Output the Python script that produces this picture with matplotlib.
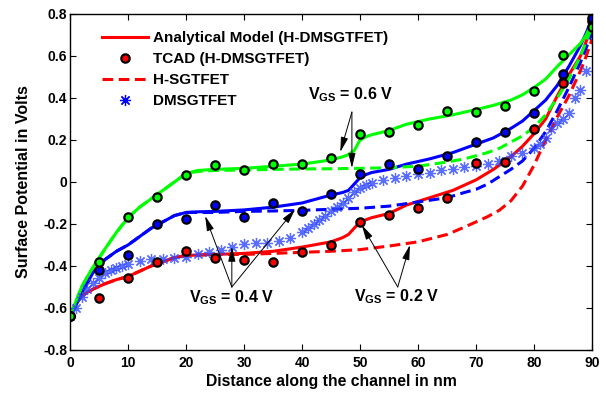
import numpy as np
import matplotlib
matplotlib.use("Agg")
import matplotlib.pyplot as plt

# ---- data ----
x_tcad = [0, 5, 10, 15, 20, 25, 30, 35, 40, 45, 50, 55, 60, 65, 70, 75, 80, 85, 90]
tcad_06 = [-0.64, -0.38, -0.165, -0.07, 0.033, 0.08, 0.057, 0.084, 0.084, 0.113,
           0.23, 0.24, 0.27, 0.34, 0.335, 0.36, 0.433, 0.605, 0.74]
tcad_04 = [-0.64, -0.42, -0.35, -0.2, -0.176, -0.11, -0.165, -0.1, -0.138, -0.055,
           0.038, 0.086, 0.062, 0.124, 0.19, 0.24, 0.33, 0.515, 0.78]
tcad_02 = [-0.64, -0.554, -0.455, -0.38, -0.33, -0.36, -0.37, -0.38, -0.335, -0.30,
           -0.19, -0.155, -0.125, -0.075, 0.089, 0.097, 0.25, 0.47, 0.765]

x_model = [0, 1, 2, 3, 4, 6, 8, 10, 12, 14, 16, 18, 20, 22, 25, 30, 35, 40, 45, 47, 48,
           49, 50, 51, 52, 55, 58, 62, 66, 70, 73, 76, 78, 80, 82, 84, 86, 88, 89, 90]
model_06 = [-0.64, -0.57, -0.5, -0.45, -0.405, -0.32, -0.24, -0.17, -0.12, -0.08, -0.04,
            0.0, 0.04, 0.055, 0.06, 0.065, 0.075, 0.085, 0.105, 0.12, 0.13,
            0.15, 0.2, 0.215, 0.225, 0.245, 0.275, 0.3, 0.32, 0.345, 0.365, 0.39,
            0.415, 0.45, 0.49, 0.55, 0.605, 0.66, 0.7, 0.76]
model_04 = [-0.64, -0.59, -0.53, -0.48, -0.43, -0.37, -0.33, -0.3, -0.26, -0.22, -0.19,
            -0.16, -0.145, -0.142, -0.14, -0.133, -0.12, -0.1, -0.062, -0.05, -0.04,
            -0.01, 0.02, 0.035, 0.045, 0.06, 0.085, 0.11, 0.14, 0.18, 0.21, 0.255,
            0.29, 0.34, 0.39, 0.46, 0.55, 0.65, 0.71, 0.78]
model_02 = [-0.64, -0.58, -0.545, -0.525, -0.51, -0.485, -0.465, -0.45, -0.425, -0.4, -0.38,
            -0.36, -0.35, -0.348, -0.345, -0.34, -0.33, -0.31, -0.285, -0.265, -0.25,
            -0.22, -0.19, -0.18, -0.17, -0.15, -0.11, -0.075, -0.04, 0.01, 0.06, 0.12,
            0.17, 0.23, 0.3, 0.41, 0.51, 0.6, 0.67, 0.74]

x_sg = [0, 1, 2, 3, 4, 6, 8, 10, 12, 14, 16, 18, 20, 22, 25, 30, 35, 40, 45, 50, 55, 60,
        65, 68, 70, 72, 74, 76, 78, 80, 82, 84, 86, 88, 89, 90]
sg_06 = [-0.64, -0.57, -0.5, -0.45, -0.405, -0.32, -0.24, -0.17, -0.12, -0.08, -0.04,
         0.0, 0.04, 0.05, 0.055, 0.057, 0.06, 0.062, 0.063, 0.065, 0.068, 0.075,
         0.095, 0.11, 0.125, 0.14, 0.16, 0.19, 0.22, 0.26, 0.32, 0.4, 0.49, 0.6, 0.67, 0.74]
sg_04 = [-0.64, -0.59, -0.53, -0.48, -0.43, -0.37, -0.33, -0.3, -0.26, -0.22, -0.19,
         -0.16, -0.145, -0.145, -0.145, -0.14, -0.138, -0.135, -0.13, -0.125, -0.115, -0.095,
         -0.075, -0.05, -0.035, -0.01, 0.025, 0.06, 0.1, 0.16, 0.24, 0.34, 0.45, 0.57, 0.64, 0.71]
sg_02 = [-0.64, -0.58, -0.545, -0.525, -0.51, -0.485, -0.465, -0.45, -0.425, -0.4, -0.38,
         -0.36, -0.35, -0.348, -0.345, -0.345, -0.34, -0.335, -0.33, -0.322, -0.305, -0.285,
         -0.25, -0.215, -0.19, -0.165, -0.135, -0.09, -0.02, 0.08, 0.2, 0.31, 0.41, 0.53, 0.6, 0.68]

x_dm = [0, 1, 2, 3, 4, 5, 6, 7, 8, 9, 10, 12, 14, 16, 18, 20, 22, 24, 26, 28, 30, 32,
        34, 36, 38, 40, 41, 42, 43, 44, 45, 46, 47, 48, 49, 50, 51, 52, 54, 56, 58, 60,
        62, 64, 66, 68, 70, 72, 74, 76, 78, 80, 81, 82, 83, 84, 85, 86, 87, 88, 89]
dm_04 = [-0.64, -0.6, -0.55, -0.51, -0.48, -0.455, -0.435, -0.42, -0.41, -0.4, -0.39,
         -0.375, -0.368, -0.365, -0.36, -0.355, -0.345, -0.335, -0.325, -0.31, -0.295,
         -0.29, -0.29, -0.28, -0.265, -0.24, -0.22, -0.2, -0.18, -0.16, -0.14, -0.12,
         -0.1, -0.075, -0.05, -0.03, -0.015, -0.005, 0.01, 0.02, 0.03, 0.04,
         0.045, 0.055, 0.06, 0.07, 0.075, 0.085, 0.1, 0.125, 0.14, 0.16, 0.18, 0.21,
         0.25, 0.28, 0.3, 0.33, 0.4, 0.44, 0.53]


def main():
    plt.rcParams["font.family"] = "Liberation Sans"
    plt.rcParams["font.weight"] = "bold"
    plt.rcParams["mathtext.fontset"] = "custom"
    plt.rcParams["mathtext.rm"] = "Liberation Sans:bold"
    plt.rcParams["mathtext.bf"] = "Liberation Sans:bold"
    plt.rcParams["mathtext.it"] = "Liberation Sans:bold"

    fig = plt.figure(figsize=(6.06, 3.94), dpi=100)
    ax = fig.add_axes([0.1155, 0.1117, 0.8615, 0.8528])

    lw = 2.2
    dash = (0, (3.5, 1.8))
    green = "#00ff00"
    star = (8, 2, 0)
    for ys, c in [(model_02, "r"), (model_04, "b"), (model_06, green)]:
        ax.plot(x_model, ys, "-", color=c, lw=lw)
    for ys, c in [(sg_02, "r"), (sg_04, "b"), (sg_06, green)]:
        ax.plot(x_sg, ys, linestyle=dash, color=c, lw=lw)
    ax.plot(x_dm, dm_04, marker=star, ls="none", color="#3048ff", ms=8, mew=0.9, alpha=0.8)
    for ys, c in [(tcad_02, "r"), (tcad_04, "b"), (tcad_06, green)]:
        ax.plot(x_tcad, ys, "o", mfc=c, mec="k", ms=6, mew=1.6, ls="none")

    # legend with proxy handles
    h1, = ax.plot([], [], "-", color="r", lw=lw)
    h2, = ax.plot([], [], "o", mfc="r", mec="k", ms=6, mew=1.6, ls="none")
    h3, = ax.plot([], [], linestyle=dash, color="r", lw=lw)
    h4, = ax.plot([], [], marker=star, ls="none", color="b", ms=8, mew=0.9)
    ax.legend([h1, h2, h3, h4],
              ["Analytical Model (H-DMSGTFET)", "TCAD (H-DMSGTFET)", "H-SGTFET", "DMSGTFET"],
              loc="upper left", bbox_to_anchor=(0.05, 0.967), frameon=False,
              fontsize=11, handlelength=3.0, labelspacing=0.46, handletextpad=0.3,
              borderaxespad=0)

    arr = dict(arrowstyle="-|>,head_length=0.9,head_width=0.22", color="k", lw=0.7,
               shrinkA=0, shrinkB=0)
    for tail, heads in [((48.6, 0.333), [(46.6, 0.143), (48.6, 0.067)]),
                        ((27.9, -0.5), [(23.3, -0.162), (27.9, -0.308), (38.8, -0.13)]),
                        ((56.5, -0.5), [(50.3, -0.205), (58.6, -0.3)])]:
        for hd in heads:
            ax.annotate("", xy=hd, xytext=tail, arrowprops=arr)
    ax.text(48.4, 0.414, r"V$_{\mathrm{GS}}$ = 0.6 V", fontsize=11.5, ha="center", va="center")
    ax.text(27.8, -0.552, r"V$_{\mathrm{GS}}$ = 0.4 V", fontsize=11.5, ha="center", va="center")
    ax.text(56.2, -0.548, r"V$_{\mathrm{GS}}$ = 0.2 V", fontsize=11.5, ha="center", va="center")

    ax.set_xlim(0, 90)
    ax.set_ylim(-0.8, 0.8)
    ax.set_xticks(np.arange(0, 91, 10))
    ax.set_yticks(np.arange(-0.8, 0.81, 0.2))
    ax.set_yticklabels(["-0.8", "-0.6", "-0.4", "-0.2", "0", "0.2", "0.4", "0.6", "0.8"])
    ax.tick_params(direction="in", top=True, right=True, length=4, labelsize=10)
    ax.tick_params(axis="x", pad=4)
    ax.tick_params(axis="y", pad=2)
    for s in ax.spines.values():
        s.set_linewidth(1.0)
    ax.set_xlabel("Distance along the channel in nm", fontsize=11.3, fontweight="bold", labelpad=3)
    ax.set_ylabel("Surface Potential in Volts", fontsize=11.5, fontweight="bold", labelpad=9)

    plt.savefig("out.png", dpi=100)


if __name__ == "__main__":
    main()
